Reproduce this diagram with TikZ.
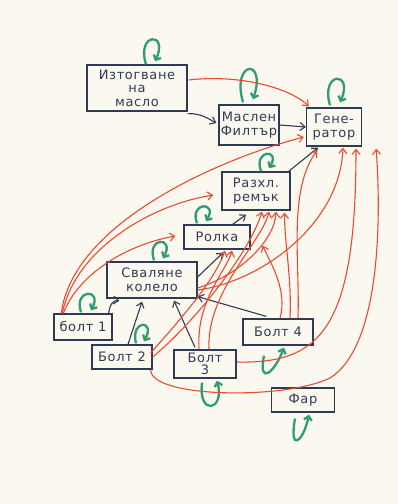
\documentclass[tikz,border=0pt]{standalone}
\usepackage{fontspec}
\setmainfont{DejaVu Sans}[LetterSpace=5]
\usetikzlibrary{arrows.meta,calc}
\definecolor{ink}{HTML}{2F3A55}
\definecolor{redink}{HTML}{EC4A30}
\definecolor{greenink}{HTML}{2E9E70}
\definecolor{paper}{HTML}{FBF8F0}
\begin{document}
\begin{tikzpicture}[x=1pt,y=-1pt,
  box/.style={draw=ink, line width=1.3pt, align=center, text=ink,
    font=\fontsize{13}{13.5}\selectfont, inner sep=1.5pt},
  tipR/.style={-{Straight Barb[length=5pt,width=8pt]}},
  redarr/.style={draw=redink, line width=1.1pt, tipR},
  darkarr/.style={draw=ink, line width=1.1pt, tipR},
  gloop/.style={draw=greenink, line width=2.3pt, -{Straight Barb[length=4pt,width=8pt]}}
]
\fill[paper] (0,0) rectangle (398,504);
\useasboundingbox (0,0) rectangle (398,504);

% nodes
\node[box, minimum width=100pt, minimum height=46pt] (izt) at (137,88) {Изтогване\\на\\масло};
\node[box, minimum width=60pt, minimum height=40pt] (fil) at (249,125) {Маслен\\Филтър};
\node[box, minimum width=55pt, minimum height=38pt] (gen) at (334,127) {Гене-\\ратор};
\node[box, minimum width=68pt, minimum height=38pt] (rem) at (256,191) {Разхл.\\ремък};
\node[box, minimum width=66pt, minimum height=24pt] (rol) at (217,237) {Ролка};
\node[box, minimum width=90pt, minimum height=36pt] (kol) at (152,280) {Сваляне\\колело};
\node[box, minimum width=58pt, minimum height=26pt] (b1) at (83,327) {болт 1};
\node[box, minimum width=60pt, minimum height=24pt] (b2) at (122,357) {Болт 2};
\node[box, minimum width=62pt, minimum height=28pt, font=\fontsize{13}{11.5}\selectfont] (b3) at (205,364) {Болт\\3};
\node[box, minimum width=70pt, minimum height=26pt] (b4) at (278,332) {Болт 4};
\node[box, minimum width=63pt, minimum height=24pt] (far) at (303,400) {Фар};

% green self-loops (top)
\draw[gloop] ($(izt.north)+(9,0)$) .. controls +(-10,-32) and +(14,-30) .. ($(izt.north)+(18,-3)$);
\draw[gloop] ($(fil.north)+(-6,-2)$) .. controls +(-12,-42) and +(14,-42) .. ($(fil.north)+(4,-5)$);
\draw[gloop] ($(gen.north)+(-4,-2)$) .. controls +(-10,-34) and +(14,-32) .. ($(gen.north)+(6,-5)$);
\draw[gloop] ($(rem.north)+(5,0)$) .. controls +(-8,-22) and +(12,-20) .. ($(rem.north)+(13,-3)$);
\draw[gloop] ($(rol.north)+(-20,-1)$) .. controls +(-8,-22) and +(12,-20) .. ($(rol.north)+(-11,-3)$);
\draw[gloop] ($(kol.north)+(2,-1)$) .. controls +(-8,-24) and +(12,-22) .. ($(kol.north)+(11,-3)$);
\draw[gloop] ($(b1.north)+(-2,-1)$) .. controls +(-8,-24) and +(12,-22) .. ($(b1.north)+(8,-3)$);
\draw[gloop] ($(b2.north)+(14,-1)$) .. controls +(-6,-24) and +(12,-22) .. ($(b2.north)+(22,-3)$);
% green self-loops (bottom)
\draw[gloop] ($(b3.south)+(-3,4)$) .. controls +(-4,34) and +(8,30) .. ($(b3.south)+(12,2)$);
\draw[gloop] ($(b4.south)+(-14,10)$) .. controls +(-6,30) and +(-10,26) .. ($(b4.south)+(6,2)$);
\draw[gloop] ($(far.south)+(-8,6)$) .. controls +(-6,34) and +(-6,28) .. ($(far.south)+(6,2)$);

% dark arrows
\draw[darkarr] ($(izt.south east)+(0,2)$) .. controls (202,113) and (210,120) .. ($(fil.west)+(-2,-2)$);
\draw[darkarr] (fil.east) -- (gen.west);
\draw[darkarr] ($(rem.north east)+(-2,0)$) -- ($(gen.south)+(-16,1)$);
\draw[darkarr] ($(rol.north east)+(-18,0)$) -- ($(rem.south)+(-10,4)$);
\draw[darkarr] ($(kol.east)+(0,-3)$) -- ($(rol.south)+(6,3)$);
\draw[darkarr] ($(b1.north east)+(-4,0)$) .. controls (110,304) and (113,300) .. ($(kol.south west)+(13,2)$);
\draw[darkarr] ($(b2.north)+(6,0)$) -- ($(kol.south)+(-10,3)$);
\draw[darkarr] ($(b3.north)+(-10,-2)$) -- ($(kol.south)+(22,2)$);
\draw[darkarr] ($(b4.north west)+(24,-2)$) -- ($(kol.south east)+(0,-2)$);

% red arrows
\draw[redarr] ($(izt.east)+(1,-8)$) .. controls (240,74) and (290,88) .. ($(gen.north west)+(3,-1)$);
\draw[redarr] ($(b1.north west)+(8,0)$) .. controls (72,225) and (215,160) .. ($(gen.west)+(-2,10)$);
\draw[redarr] ($(b1.north west)+(9,0)$) .. controls (75,250) and (150,205) .. ($(rem.west)+(-8,4)$);
\draw[redarr] ($(b1.north west)+(10,0)$) .. controls (78,275) and (125,245) .. ($(rol.west)+(-8,-1)$);
\draw[redarr] ($(kol.east)+(0,8)$) .. controls (240,275) and (275,240) .. ($(rem.south)+(20,1)$);
\draw[redarr] ($(kol.east)+(0,10)$) .. controls (260,282) and (340,225) .. ($(gen.south)+(9,1)$);
\draw[redarr] ($(b2.east)+(-2,-4)$) .. controls (180,320) and (215,280) .. ($(rol.south)+(8,1)$);
\draw[redarr] ($(b2.east)+(0,0)$) .. controls (195,322) and (250,252) .. ($(rem.south)+(6,1)$);
\draw[redarr] ($(b2.south east)+(-2,0)$) .. controls (150,398) and (285,400) .. (330,378)
   .. controls (378,348) and (382,230) .. ($(gen.south east)+(14,2)$);
\draw[redarr] ($(b3.north)+(-6,0)$) .. controls (196,300) and (226,272) .. ($(rol.south)+(15,1)$);
\draw[redarr] ($(b3.north)+(4,0)$) .. controls (206,292) and (262,242) .. ($(rem.south)+(13,1)$);
\draw[redarr] ($(b3.east)+(0,-2)$) .. controls (320,364) and (356,330) .. ($(gen.south)+(22,2)$);
\draw[redarr] ($(b4.north)+(2,0)$) .. controls (288,290) and (270,262) .. ($(rol.south east)+(12,-4)$);
\draw[redarr] ($(b4.north)+(12,0)$) .. controls (292,278) and (284,240) .. ($(rem.south east)+(-6,2)$);
\draw[redarr] ($(b4.north)+(20,0)$) .. controls (300,260) and (288,190) .. ($(gen.south)+(-17,4)$);
\end{tikzpicture}
\end{document}
